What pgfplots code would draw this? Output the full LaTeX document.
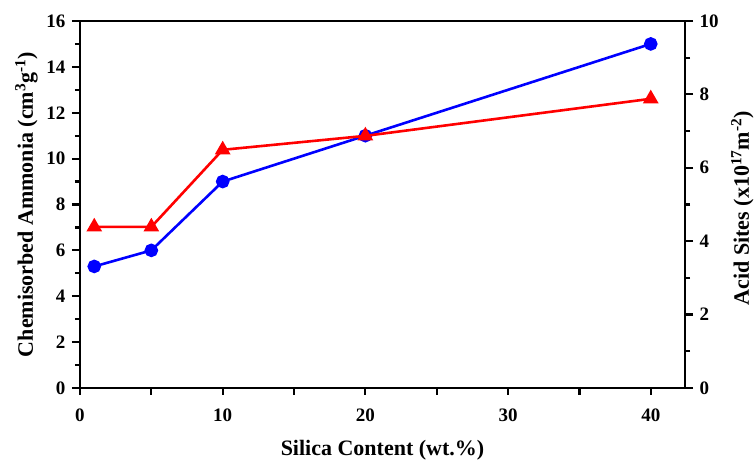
\documentclass[border=0pt]{standalone}
\usepackage{pgfplots}
\pgfplotsset{compat=1.18}
\usepackage{fontspec}
\setmainfont{Liberation Serif}
\begin{document}
\begin{tikzpicture}
\pgfplotsset{
  every axis/.append style={
    scale only axis, width=605pt, height=367pt,
    xmin=0, xmax=42.4,
    axis line style={line width=2.4pt},
    every tick/.style={line width=2.2pt, black},
    major tick length=8pt, minor tick length=5pt,
    tick align=outside,
    /pgf/number format/assume math mode=true,
    tick label style={font=\fontsize{19}{22}\selectfont\bfseries},
    label style={font=\fontsize{22}{26}\selectfont\bfseries},
  }
}
\begin{axis}[name=ax,
  ymin=0, ymax=16,
  xtick={0,10,20,30,40}, minor xtick={5,15,25,35},
  ytick={0,2,...,16}, minor ytick={1,3,...,15},
  xtick pos=bottom, ytick pos=left,
  xtick style={/pgfplots/major tick length=7pt},
  minor x tick style={/pgfplots/minor tick length=7pt},
  xticklabel style={yshift=-9pt},
  yticklabel style={xshift=-3pt},
  xlabel={Silica Content (wt.\%)},
  ylabel={Chemisorbed Ammonia (cm\textsuperscript{3}g\textsuperscript{-1})},
  xlabel style={at={(axis description cs:0.5,-0.169)}, anchor=center},
  ylabel style={at={(axis description cs:-0.0884,0.5)}, anchor=center},
]
\addplot[blue, line width=2.6pt, mark=*, mark size=5.5pt, mark options={solid}] coordinates {
(1,5.3) (5,6.0) (10,9.0) (20,11.0) (40,15.0)};
\end{axis}
\begin{axis}[
  ymin=0, ymax=10,
  axis x line=none, axis y line*=right,
  ytick={0,2,...,10}, minor ytick={1,3,...,9},
  yticklabel style={xshift=3pt},
  ylabel={Acid Sites (x10\textsuperscript{17}m\textsuperscript{-2})},
  ylabel style={at={(axis description cs:1.095,0.49)}, anchor=center},
]
\addplot[red, line width=2.6pt, mark=triangle*, mark size=6.5pt, mark options={solid}] coordinates {
(1,4.39) (5,4.39) (10,6.49) (20,6.87) (40,7.88)};
\end{axis}
\pgfresetboundingbox
\path ([shift={(-80pt,-74pt)}]ax.south west) rectangle ([shift={(70pt,21pt)}]ax.north east);
\end{tikzpicture}
\end{document}
